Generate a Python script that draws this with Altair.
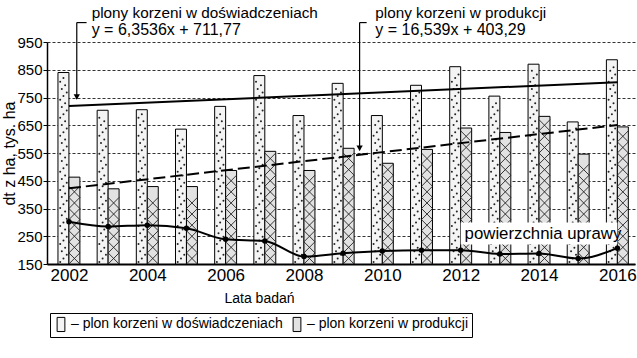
import altair as alt
import pandas as pd

years = list(range(2002, 2017))
plon_dosw = [840, 704, 706, 636, 718, 829, 685, 801, 685, 794, 861, 755, 870, 662, 886]
plon_prod = [463, 421, 429, 429, 487, 556, 487, 567, 513, 563, 640, 624, 682, 546, 644]
powierzchnia = [302, 285, 290, 279, 239, 233, 177, 189, 197, 200, 200, 186, 188, 170, 207]

S_D = "– plon korzeni w doświadczeniach"
S_P = "– plon korzeni w produkcji"
series_names = [S_D, S_P]
x_ticks = [2002, 2004, 2006, 2008, 2010, 2012, 2014, 2016]
y_ticks = [150, 250, 350, 450, 550, 650, 750, 850, 950]

FONT = "Liberation Sans, Arial, sans-serif"
BW = 0.28  # bar width in years

df_bars = pd.DataFrame({
    "year": years * 2,
    "value": plon_dosw + plon_prod,
    "series": [S_D] * len(years) + [S_P] * len(years),
})
df_d = pd.DataFrame({"year": years, "value": plon_dosw})
df_p = pd.DataFrame({"year": years, "value": plon_prod})
df_a = pd.DataFrame({"year": years, "value": powierzchnia})

xscale = alt.Scale(domain=[2001.44, 2016.45], nice=False, zero=False)
yscale = alt.Scale(domain=[150, 950], nice=False, zero=False)
xaxis = alt.Axis(values=x_ticks, format="d", title="Lata badań", labelFontSize=17,
                 titleFontSize=14, titleFontWeight="normal", grid=False, ticks=False,
                 domainColor="black", domainWidth=2, labelColor="black", titleColor="black",
                 labelPadding=3, titleX=212, titleY=27, labelFont=FONT, titleFont=FONT)
yaxis = alt.Axis(values=y_ticks, title="dt z ha,  tys. ha", labelFontSize=15, titleFontSize=16,
                 titleFontWeight="normal", grid=True, gridColor="#333", gridDash=[3, 2],
                 gridWidth=1, tickColor="black", tickSize=4, domainColor="black",
                 domainWidth=1.5, labelColor="black", titleColor="black", labelPadding=1,
                 titleX=-38, titleY=111, titleAngle=-90, titleAlign="center",
                 titleBaseline="middle", labelFont=FONT, titleFont=FONT)


def X(field):
    return alt.X(field, type="quantitative", scale=xscale, axis=xaxis)


def Y(field):
    return alt.Y(field, type="quantitative", scale=yscale, axis=yaxis)


bars = alt.Chart(df_bars).transform_calculate(
    xl=f"datum.series == '{S_D}' ? datum.year - {BW} : datum.year",
    xr=f"datum.series == '{S_D}' ? datum.year : datum.year + {BW}",
).mark_bar(stroke="black", strokeWidth=1).encode(
    x=X("xl"), x2="xr", y=Y("value"), y2=alt.datum(150),
    fill=alt.Fill("series:N", scale=alt.Scale(domain=series_names, range=["#f4f4f4", "#e2e2e2"]),
                  sort=series_names,
                  legend=alt.Legend(title=None, orient="none", legendX=3, legendY=271,
                                    direction="horizontal", strokeColor="black", padding=3,
                                    labelFontSize=14, labelFont=FONT, labelColor="black",
                                    symbolType="M-0.55,-1 L0.55,-1 L0.55,1 L-0.55,1 Z",
                                    symbolSize=200, symbolStrokeColor="black",
                                    symbolStrokeWidth=1, columnPadding=6, labelOffset=2,
                                    labelLimit=400)),
)

# crosshatch pattern on production bars
hatch_base = alt.Chart(df_p).transform_calculate(
    ks="sequence(0, floor((datum.value - 150) / 40))"
).transform_flatten(["ks"]).transform_calculate(
    y0="150 + 40 * datum.ks", y1="190 + 40 * datum.ks",
    xl="datum.year", xr=f"datum.year + {BW}"
)
hatch1 = hatch_base.mark_rule(color="#222", strokeWidth=0.9).encode(
    x=X("xl"), x2="xr", y=Y("y0"), y2="y1")
hatch2 = hatch_base.mark_rule(color="#222", strokeWidth=0.9).encode(
    x=X("xr"), x2="xl", y=Y("y0"), y2="y1")

# stipple on experimental bars
dots = alt.Chart(df_d).transform_calculate(
    ks="sequence(0, floor((datum.value - 160) / 13))"
).transform_flatten(["ks"]).transform_calculate(
    yd="157 + 13 * datum.ks",
    xd=f"datum.year - {BW} + {BW} * (0.2 + 0.6 * ((datum.ks * 2) % 5) / 4)"
).mark_circle(color="#222", size=4, opacity=1).encode(x=X("xd"), y=Y("yd"))

trend_d = alt.Chart(df_d).transform_regression("year", "value").mark_line(
    color="black", strokeWidth=2).encode(x=X("year"), y=Y("value"))
trend_p = alt.Chart(df_p).transform_regression("year", "value").mark_line(
    color="black", strokeWidth=2, strokeDash=[12, 5]).encode(x=X("year"), y=Y("value"))

area_line = alt.Chart(df_a).mark_line(color="black", strokeWidth=2, interpolate="monotone").encode(
    x=X("year"), y=Y("value"))
area_pts = alt.Chart(df_a).mark_circle(color="black", size=30, opacity=1).encode(
    x=X("year"), y=Y("value"))

# white box + label for area line
lab_box = alt.Chart(pd.DataFrame({"x": [2012.0], "x2": [2016.0], "y": [220], "y2": [300]})).mark_rect(
    color="white").encode(x=X("x"), x2="x2", y=Y("y"), y2="y2")
lab_text = alt.Chart(pd.DataFrame({"x": [2012.1], "y": [241], "t": ["powierzchnia uprawy"]})).mark_text(
    align="left", baseline="alphabetic", fontSize=16.8, font=FONT, color="black").encode(
    x=X("x"), y=Y("y"), text="t:N")

ann_title = alt.Chart(pd.DataFrame({
    "x": [2002.58, 2009.82], "y": [1035, 1038],
    "t": ["plony korzeni w doświadczeniach", "plony korzeni w produkcji"]})).mark_text(
    align="left", baseline="alphabetic", fontSize=15.3, font=FONT, color="black").encode(
    x=X("x"), y=Y("y"), text="t:N")
ann_eq = alt.Chart(pd.DataFrame({
    "x": [2002.58, 2009.82], "y": [975, 977],
    "t": ["y = 6,3536x + 711,77", "y = 16,539x + 403,29"]})).mark_text(
    align="left", baseline="alphabetic", fontSize=16, font=FONT, color="black").encode(
    x=X("x"), y=Y("y"), text="t:N")

arr_h = alt.Chart(pd.DataFrame({"x": [2002.2, 2009.42], "x2": [2002.45, 2009.6],
                                "y": [1020, 1020]})).mark_rule(color="black", strokeWidth=1.2).encode(
    x=X("x"), x2="x2", y=Y("y"))
arr_v = alt.Chart(pd.DataFrame({"x": [2002.2, 2009.42], "y": [1020, 1020],
                                "y2": [745, 560]})).mark_rule(color="black", strokeWidth=1.2).encode(
    x=X("x"), y=Y("y"), y2="y2")
arr_head = alt.Chart(pd.DataFrame({"x": [2002.2, 2009.42], "y": [752, 567]})).mark_point(
    shape="triangle-down", filled=True, color="black", size=40, opacity=1).encode(
    x=X("x"), y=Y("y"))

chart = alt.layer(
    bars, hatch1, hatch2, dots, trend_d, trend_p, lab_box, area_line, area_pts, lab_text,
    ann_title, ann_eq, arr_h, arr_v, arr_head
).properties(
    width=588, height=222,
    autosize=alt.AutoSizeParams(type="none"),
    padding={"left": 47, "top": 42, "right": 2, "bottom": 94},
    background="white",
).configure_view(strokeWidth=0)

chart.save("out.html", embed_options={"renderer": "svg", "actions": False})
